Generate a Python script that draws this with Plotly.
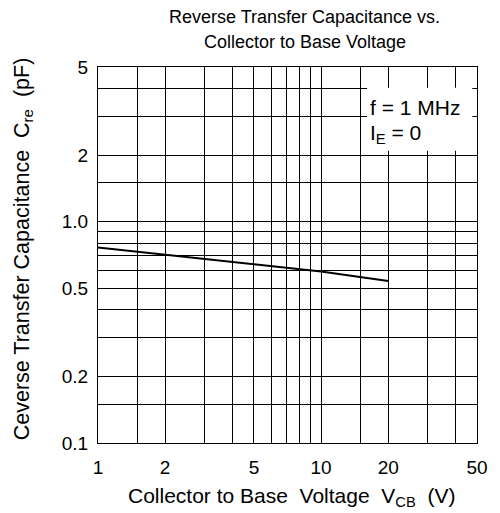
import plotly.graph_objects as go
import math

# Data
vcb = [1, 2, 5, 10, 20]
cre = [0.765, 0.71, 0.645, 0.595, 0.54]

x_major = [1, 2, 5, 10, 20, 50]
x_major_text = ["1", "2", "5", "10", "20", "50"]
x_minor = [1.5, 3, 4, 6, 7, 8, 9, 15, 30, 40]
y_major = [0.1, 0.2, 0.5, 1.0, 2, 5]
y_major_text = ["0.1", "0.2", "0.5", "1.0", "2", "5"]
y_minor = [0.15, 0.3, 0.4, 0.6, 0.7, 0.8, 0.9, 1.5, 3, 4]

FONT = "Arial, Liberation Sans, Helvetica, sans-serif"

# plot area in screen pixels (page has 8px body margin)
PX0, PX1, PY0, PY1 = 98.3, 476.7, 67.3, 443.3


def px(x):
    return (x - PX0) / (PX1 - PX0)


def py(y):
    return (PY1 - y) / (PY1 - PY0)


fig = go.Figure()
fig.add_trace(go.Scatter(x=vcb, y=cre, mode="lines",
                         line=dict(color="black", width=2), showlegend=False,
                         hoverinfo="skip"))

axis_common = dict(type="log", showgrid=True, gridcolor="black", gridwidth=1,
                   showline=True, linecolor="black", linewidth=1, mirror=True,
                   ticks="", zeroline=False,
                   tickfont=dict(family=FONT, size=19, color="black"))

fig.update_xaxes(range=[0, math.log10(50)], tickmode="array", tickvals=x_major,
                 ticktext=x_major_text, ticklabelstandoff=7,
                 minor=dict(tickmode="array", tickvals=x_minor, showgrid=True,
                            gridcolor="black", gridwidth=1, ticks=""),
                 **axis_common)
fig.update_yaxes(range=[-1, math.log10(5)], tickmode="array", tickvals=y_major,
                 ticktext=y_major_text, ticklabelstandoff=5,
                 minor=dict(tickmode="array", tickvals=y_minor, showgrid=True,
                            gridcolor="black", gridwidth=1, ticks=""),
                 **axis_common)

# white box behind condition text
fig.add_shape(type="rect", xref="paper", yref="paper", x0=px(367), x1=px(472),
              y0=py(151), y1=py(88), fillcolor="white", line=dict(width=0), layer="above")

anns = []
for text, yc in [("Reverse Transfer Capacitance vs.", 17), ("Collector to Base Voltage", 42.5)]:
    anns.append(dict(text=text, xref="paper", yref="paper", x=px(304.5),
                     y=py(yc), xanchor="center", yanchor="middle",
                     showarrow=False, font=dict(family=FONT, size=18, color="black")))
# axis titles
anns.append(dict(text="Collector to Base\u00a0 Voltage\u00a0 V<sub>CB</sub>\u00a0 (V)",
                 xref="paper", yref="paper", x=px(291.5), y=py(497),
                 xanchor="center", yanchor="middle",
                 showarrow=False, font=dict(family=FONT, size=21, color="black")))
anns.append(dict(text="Ceverse Transfer Capacitance\u00a0 C<sub>re</sub>\u00a0 (pF)",
                 xref="paper", yref="paper", x=px(24), y=py(249),
                 xanchor="center", yanchor="middle", textangle=-90,
                 showarrow=False, font=dict(family=FONT, size=21.5, color="black")))
# conditions
anns.append(dict(text="f = 1 MHz", xref="paper", yref="paper", x=px(368),
                 y=py(108), xanchor="left", yanchor="middle",
                 showarrow=False, font=dict(family=FONT, size=21, color="black")))
anns.append(dict(text="I<sub>E</sub> = 0", xref="paper", yref="paper", x=px(368),
                 y=py(134), xanchor="left", yanchor="middle",
                 showarrow=False, font=dict(family=FONT, size=21, color="black")))

fig.update_layout(width=492, height=505,
                  margin=dict(l=PX0 - 8, r=500 - PX1, t=PY0 - 8, b=513 - PY1),
                  paper_bgcolor="white", plot_bgcolor="white",
                  annotations=anns, showlegend=False)

fig.write_html("out.html")
